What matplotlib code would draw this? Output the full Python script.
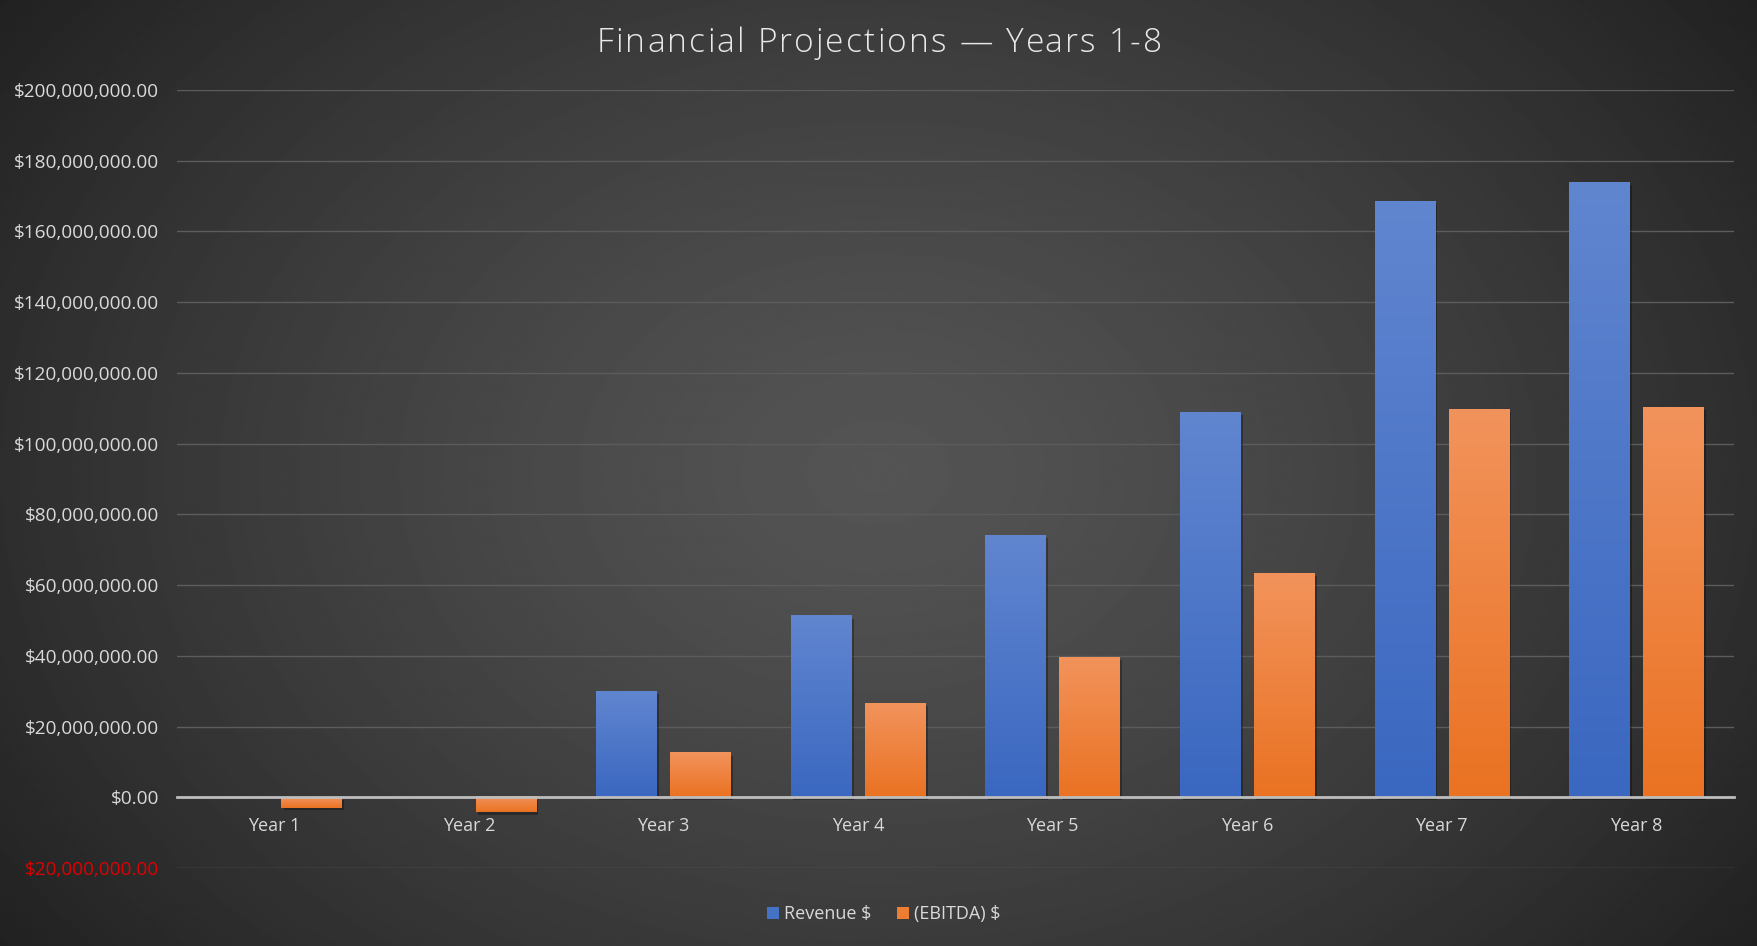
import numpy as np
import matplotlib
matplotlib.use("Agg")
import matplotlib.pyplot as plt
import matplotlib.patheffects as pe
from matplotlib.colors import LinearSegmentedColormap
from matplotlib.patches import Patch
from matplotlib.ticker import FuncFormatter, MultipleLocator

plt.rcParams["font.family"] = ["Open Sans", "DejaVu Sans"]

years = ["Year 1", "Year 2", "Year 3", "Year 4", "Year 5", "Year 6", "Year 7", "Year 8"]
revenue = [0, 0, 29.8e6, 51.2e6, 74.0e6, 108.8e6, 168.5e6, 173.7e6]
ebitda = [-3.0e6, -4.3e6, 12.5e6, 26.4e6, 39.5e6, 63.2e6, 109.7e6, 110.2e6]
series_names = ["Revenue $", "(EBITDA) $"]
title = "Financial Projections \u2014 Years 1-8"

BLUE = "#4472c4"
ORANGE = "#ed7d31"
TEXT = "#d9d9d9"


def dollars(v, _pos=None):
    return f"${abs(v):,.2f}"


def gradient_fill(ax, bars, top, bottom):
    # paint each bar with a vertical gradient, lighter at the top
    cmap = LinearSegmentedColormap.from_list("bar", [bottom, top])
    grad = np.linspace(0, 1, 256).reshape(-1, 1)
    for b in bars:
        x0, y0 = b.get_xy()
        w, h = b.get_width(), b.get_height()
        if h == 0:
            continue
        lo, hi = min(y0, y0 + h), max(y0, y0 + h)
        ax.imshow(grad, extent=(x0, x0 + w, lo, hi), origin="lower",
                  aspect="auto", cmap=cmap, zorder=3, interpolation="bilinear")


def spaced_text(fig, xc, yc, s, tracking_px, **kw):
    # draw a string with extra letter spacing, centred on (xc, yc) in figure coords
    renderer = fig.canvas.get_renderer()
    fw = fig.bbox.width

    def width(t):
        probe = fig.text(0, 0, t + "|", **kw)
        bar = fig.text(0, 0, "|", **kw)
        w = probe.get_window_extent(renderer).width - bar.get_window_extent(renderer).width
        probe.remove()
        bar.remove()
        return w

    starts = [width(s[:i]) + i * tracking_px for i in range(len(s))]
    total = width(s) + (len(s) - 1) * tracking_px
    left = xc * fw - total / 2
    for ch, st in zip(s, starts):
        if ch != " ":
            fig.text((left + st) / fw, yc, ch, ha="left", va="center", **kw)


fig = plt.figure(figsize=(17.57, 9.46), dpi=100)

# radial backdrop, lighter in the middle
bg = fig.add_axes([0, 0, 1, 1], zorder=-10)
yy, xx = np.mgrid[0:1:400j, 0:1:700j]
r = np.sqrt(((xx - 0.5) / 0.55) ** 2 + ((yy - 0.5) / 0.75) ** 2)
shade = np.clip(0.33 - 0.17 * r ** 1.3, 0.12, 0.4)
bg.imshow(shade, cmap="gray", vmin=0, vmax=1, extent=(0, 1, 0, 1),
          aspect="auto", interpolation="bilinear")
bg.axis("off")

ax = fig.add_axes([0.1007, 0.0825, 0.886, 0.8224])
ax.set_facecolor("none")

x = np.arange(len(years))
width = 0.31
offset = 0.19
shadow = [pe.SimplePatchShadow(offset=(1.8, -1.8), shadow_rgbFace="black", alpha=0.3), pe.Normal()]
rev_bars = ax.bar(x - offset, revenue, width, color=BLUE, zorder=2, path_effects=shadow)
ebit_bars = ax.bar(x + offset, ebitda, width, color=ORANGE, zorder=2, path_effects=shadow)
gradient_fill(ax, rev_bars, "#6186d0", "#3a67c0")
gradient_fill(ax, ebit_bars, "#f2935c", "#ea7222")

ax.set_xlim(-0.5, len(years) - 0.5)
ax.set_ylim(-20e6, 200e6)
ax.yaxis.set_major_locator(MultipleLocator(20e6))
ax.yaxis.set_major_formatter(FuncFormatter(dollars))
ax.grid(axis="y", color="#5c5c5c", linewidth=1.0, zorder=0)
ax.set_axisbelow(True)

for side in ["top", "right", "left"]:
    ax.spines[side].set_visible(False)
ax.spines["bottom"].set_position(("data", 0))
ax.spines["bottom"].set_color("#bdbdbd")
ax.spines["bottom"].set_linewidth(2)
ax.spines["bottom"].set_zorder(4)

ax.set_xticks(x)
ax.set_xticklabels(years)
ax.tick_params(axis="x", length=0, pad=14.5, labelsize=13, labelcolor=TEXT)
ax.tick_params(axis="y", length=0, pad=13, labelsize=13.7, labelcolor=TEXT)

fig.canvas.draw()
for val, lab in zip(ax.get_yticks(), ax.get_yticklabels()):
    if val < 0:
        lab.set_color("#e00000")

spaced_text(fig, 0.5003, 0.954, title, 2.2,
            fontsize=24, color="#e8e8e8", fontweight="light")

handles = [Patch(facecolor=BLUE, label=series_names[0]),
           Patch(facecolor=ORANGE, label=series_names[1])]
fig.legend(handles=handles, loc="center", bbox_to_anchor=(0.503, 0.0335), ncol=2,
           frameon=False, fontsize=13, labelcolor=TEXT, handlelength=0.65,
           handleheight=0.65, handletextpad=0.3, columnspacing=1.4)

fig.savefig("out.png", dpi=100)
